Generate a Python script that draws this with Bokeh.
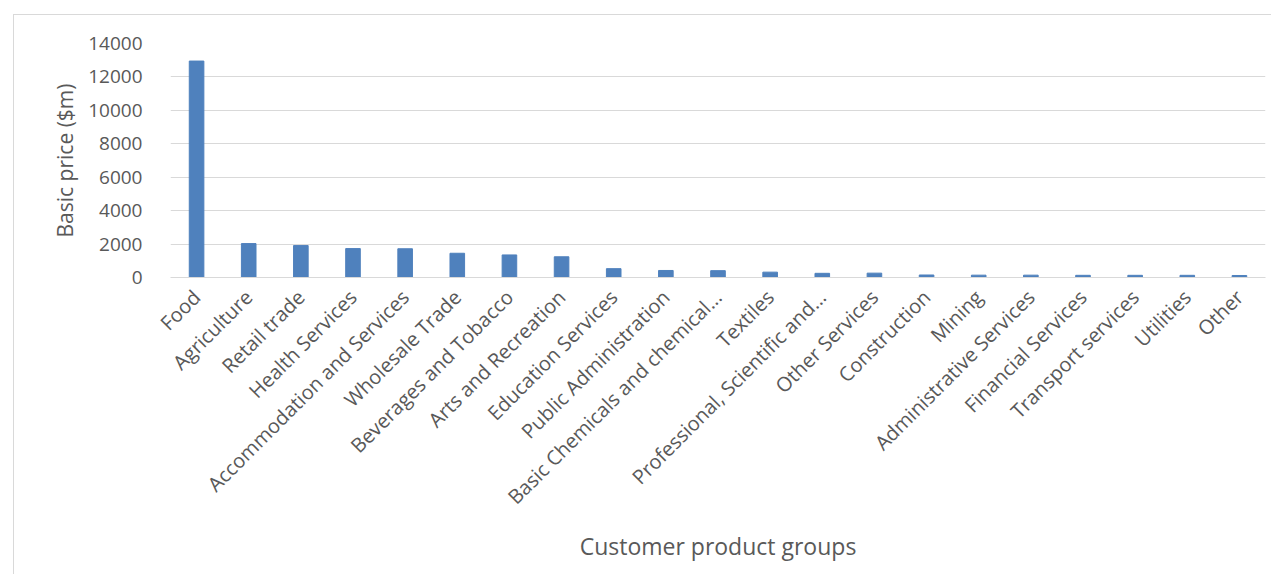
from bokeh.plotting import figure
from bokeh.models import FixedTicker, Range1d
from bokeh.embed import file_html
from bokeh.resources import INLINE
import math

categories = ["Food", "Agriculture", "Retail trade", "Health Services",
              "Accommodation and Services", "Wholesale Trade", "Beverages and Tobacco",
              "Arts and Recreation", "Education Services", "Public Administration",
              "Basic Chemicals and chemical...", "Textiles", "Professional, Scientific and...",
              "Other Services", "Construction", "Mining", "Administrative Services",
              "Financial Services", "Transport services", "Utilities", "Other"]
values = [12950, 2030, 1910, 1730, 1720, 1450, 1350, 1240, 530, 420,
          410, 320, 250, 260, 150, 140, 140, 130, 130, 130, 120]
y_ticks = [0, 2000, 4000, 6000, 8000, 10000, 12000, 14000]

FONT = "Open Sans"
GRAY = "#595959"

p = figure(x_range=categories, width=1258, height=560, output_backend="svg",
           toolbar_location=None, min_border_left=156, min_border_right=7,
           min_border_top=28, min_border_bottom=298)
p.styles = {"margin-left": "13px", "margin-top": "14px",
            "border-top": "1px solid #d9d9d9", "border-left": "1px solid #d9d9d9"}
p.y_range = Range1d(0, 14000)
p.vbar(x=categories, top=values, width=0.28, color="#4f81bd")

p.outline_line_color = None
p.xgrid.grid_line_color = None
p.ygrid.grid_line_color = "#d9d9d9"
p.ygrid.grid_line_width = 1

p.yaxis.ticker = FixedTicker(ticks=y_ticks)
p.yaxis.axis_line_color = None
p.yaxis.major_tick_line_color = None
p.yaxis.minor_tick_line_color = None
p.yaxis.major_label_text_font = FONT
p.yaxis.major_label_text_font_size = "19px"
p.yaxis.major_label_text_color = GRAY
p.yaxis.major_label_standoff = 22
p.yaxis.axis_label = "Basic price ($m)"
p.yaxis.axis_label_text_font = FONT
p.yaxis.axis_label_text_font_size = "21px"
p.yaxis.axis_label_text_font_style = "normal"
p.yaxis.axis_label_text_color = GRAY
p.yaxis.axis_label_standoff = 6

p.xaxis.axis_line_color = "#d9d9d9"
p.xaxis.major_tick_line_color = None
p.xaxis.minor_tick_line_color = None
p.xaxis.major_label_orientation = math.pi / 4
p.xaxis.major_label_text_font = FONT
p.xaxis.major_label_text_font_size = "20px"
p.xaxis.major_label_text_color = GRAY
p.xaxis.major_label_standoff = 10
p.xaxis.axis_label = "Customer product groups"
p.xaxis.axis_label_text_font = FONT
p.xaxis.axis_label_text_font_size = "23px"
p.xaxis.axis_label_text_font_style = "normal"
p.xaxis.axis_label_text_color = GRAY
p.xaxis.axis_label_standoff = 8

open("out.html", "w").write(file_html(p, INLINE))
